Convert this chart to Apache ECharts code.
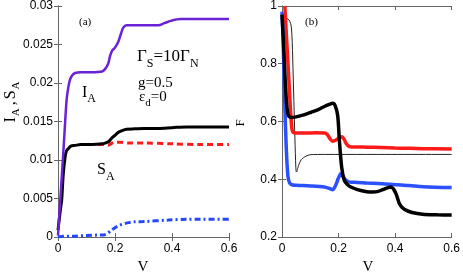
<!DOCTYPE html>
<html>
<head>
<meta charset="utf-8">
<script src="https://cdn.jsdelivr.net/npm/echarts@6/dist/echarts.min.js"></script>
<style>html,body{margin:0;padding:0;background:#fff}#c{width:463px;height:273px}</style>
</head>
<body>
<div id="c"></div>
<script>
// ---------- Panel (a) : I_A, S_A vs V ----------
const xTicksA = ['0', '0.2', '0.4', '0.6'];
const yTicksA = ['0', '0.005', '0.01', '0.015', '0.02', '0.025', '0.03'];

const V_IA = [0, 0.01, 0.02, 0.03, 0.036, 0.042, 0.05, 0.06, 0.08, 0.12, 0.155, 0.165, 0.176, 0.1825, 0.19, 0.2, 0.212, 0.22, 0.229, 0.241, 0.26, 0.3, 0.352, 0.375, 0.399, 0.43, 0.47, 0.52, 0.6];
const IA   = [0.0002, 0.0060, 0.0118, 0.0177, 0.0194, 0.0204, 0.0210, 0.0213, 0.0214, 0.0214, 0.0215, 0.0218, 0.0225, 0.0235, 0.0242, 0.0246, 0.0254, 0.0263, 0.0272, 0.0275, 0.0275, 0.0275, 0.0275, 0.0278, 0.0281, 0.0283, 0.0283, 0.0283, 0.0283];

const V_SA = [0, 0.005, 0.01, 0.013, 0.0186, 0.025, 0.03, 0.036, 0.045, 0.06, 0.08, 0.12, 0.155, 0.165, 0.178, 0.19, 0.2, 0.212, 0.224, 0.24, 0.27, 0.3, 0.35, 0.4, 0.45, 0.5, 0.6];
const SA   = [0.0009, 0.0025, 0.0040, 0.0048, 0.0082, 0.0104, 0.0112, 0.01147, 0.0118, 0.0119, 0.0120, 0.0120, 0.0121, 0.0122, 0.0124, 0.0129, 0.0132, 0.0136, 0.0138, 0.0140, 0.01405, 0.0141, 0.0141, 0.0142, 0.0143, 0.0143, 0.0143];

const V_SA1 = [0.14, 0.155, 0.165, 0.175, 0.185, 0.2, 0.22, 0.25, 0.3, 0.4, 0.5, 0.6];
const SA1   = [0.0120, 0.0120, 0.0120, 0.0119, 0.0121, 0.0123, 0.0123, 0.0122, 0.0122, 0.0121, 0.0120, 0.0120];

const V_SA2 = [0, 0.02, 0.05, 0.1, 0.14, 0.165, 0.188, 0.2, 0.2175, 0.24, 0.27, 0.3, 0.387, 0.45, 0.5, 0.6];
const SA2   = [0, 0.0001, 0.0001, 0.0002, 0.00025, 0.0003, 0.0009, 0.0012, 0.00155, 0.0018, 0.00198, 0.0020, 0.0022, 0.0023, 0.0023, 0.0023];

// ---------- Panel (b) : F vs V ----------
const xTicksB = ['0', '0.2', '0.4', '0.6'];
const yTicksB = ['0.2', '0.4', '0.6', '0.8', '1'];

const V_Fthin = [0, 0.0035, 0.021, 0.0305, 0.035, 0.0387, 0.042, 0.0457, 0.049, 0.051, 0.0587, 0.068, 0.085, 0.1, 0.15, 0.3, 0.6];
const Fthin   = [0.96, 0.96, 0.955, 0.94, 0.90, 0.79, 0.67, 0.54, 0.44, 0.425, 0.448, 0.468, 0.480, 0.485, 0.486, 0.486, 0.486];

const V_Fblk = [0, 0.005, 0.01, 0.015, 0.02, 0.025, 0.035, 0.05, 0.08, 0.103, 0.13, 0.15, 0.17, 0.179, 0.188, 0.197, 0.203, 0.211, 0.22, 0.23, 0.24, 0.267, 0.3, 0.321, 0.34, 0.356, 0.375, 0.386, 0.395, 0.403, 0.41, 0.415, 0.425, 0.438, 0.46, 0.497, 0.55, 0.6];
const Fblk   = [0.97, 0.88, 0.77, 0.68, 0.63, 0.617, 0.614, 0.616, 0.624, 0.632, 0.642, 0.652, 0.660, 0.663, 0.655, 0.62, 0.534, 0.442, 0.397, 0.383, 0.375, 0.364, 0.357, 0.356, 0.358, 0.364, 0.371, 0.373, 0.365, 0.35, 0.33, 0.316, 0.302, 0.293, 0.285, 0.279, 0.277, 0.276];

const V_Fred = [0.01, 0.015, 0.02, 0.025, 0.03, 0.035, 0.04, 0.05, 0.08, 0.12, 0.15, 0.16, 0.17, 0.179, 0.19, 0.2, 0.212, 0.22, 0.228, 0.238, 0.25, 0.3, 0.35, 0.4, 0.45, 0.5, 0.6];
const Fred   = [1.0, 0.91, 0.82, 0.73, 0.64, 0.575, 0.562, 0.560, 0.560, 0.561, 0.560, 0.555, 0.54, 0.532, 0.535, 0.542, 0.547, 0.538, 0.522, 0.513, 0.512, 0.511, 0.510, 0.508, 0.507, 0.506, 0.505];

const V_Fblue = [0, 0.004, 0.0095, 0.015, 0.021, 0.027, 0.035, 0.05, 0.1, 0.15, 0.17, 0.179, 0.19, 0.2, 0.2085, 0.215, 0.226, 0.24, 0.267, 0.3, 0.38, 0.45, 0.5, 0.6];
const Fblue   = [0.98, 0.88, 0.67, 0.51, 0.41, 0.387, 0.381, 0.379, 0.377, 0.373, 0.367, 0.364, 0.38, 0.405, 0.42, 0.41, 0.397, 0.39, 0.389, 0.387, 0.383, 0.378, 0.374, 0.371];

const pairs = (xs, ys) => ys.map((y, i) => [xs[i], y]);

const SERIF = 'Liberation Serif';
const SANS = 'Liberation Sans';
const AXC = '#666';

function xAx(grid, ticks, bottom) {
  return {
    type: 'value', gridIndex: grid, min: 0, max: 0.6, interval: 0.2,
    position: bottom ? 'bottom' : 'top',
    axisLine: { show: true, lineStyle: { color: AXC, width: 1 } },
    axisTick: { show: true, inside: true, length: 4, lineStyle: { color: AXC } },
    splitLine: { show: false },
    axisLabel: {
      show: bottom, color: '#000', fontFamily: SANS, fontSize: 12, margin: 6,
      formatter: (v) => ticks[Math.round(v / 0.2)]
    }
  };
}
function yAx(grid, min, max, step, ticks, left) {
  return {
    type: 'value', gridIndex: grid, min: min, max: max, interval: step,
    position: left ? 'left' : 'right',
    axisLine: { show: true, lineStyle: { color: AXC, width: 1 } },
    axisTick: { show: true, inside: true, length: 4, lineStyle: { color: AXC } },
    splitLine: { show: false },
    axisLabel: {
      show: left, color: '#000', fontFamily: SANS, fontSize: 12, margin: 5,
      formatter: (v) => ticks[Math.round((v - min) / step)]
    }
  };
}

function line(xi, yi, data, color, width, type, z) {
  return {
    type: 'line', xAxisIndex: xi, yAxisIndex: yi, data: data,
    showSymbol: false, symbol: 'none', smooth: 0.3, clip: true,
    lineStyle: { color: color, width: width, type: type || 'solid', cap: 'butt' },
    z: z || 2, animation: false
  };
}

function txt(x, y, text, size, rich, align, extra) {
  return Object.assign({
    type: 'text', x: x, y: y, silent: true,
    style: {
      text: text, fill: '#000',
      fontFamily: SERIF, fontSize: size,
      textAlign: align || 'left', textVerticalAlign: 'middle',
      rich: rich || {}
    }
  }, extra || {});
}
const subRich = (fs, pad) => ({ s: { fontSize: fs, fontFamily: SERIF, padding: [pad, 0, 0, 0] } });

const chart = echarts.init(document.getElementById('c'), null, { renderer: 'canvas' });
chart.setOption({
  animation: false,
  backgroundColor: '#fff',
  grid: [
    { left: 58, top: 5, width: 171, height: 232 },
    { left: 282, top: 5, width: 171, height: 232 }
  ],
  xAxis: [xAx(0, xTicksA, true), xAx(0, xTicksA, false), xAx(1, xTicksB, true), xAx(1, xTicksB, false)],
  yAxis: [yAx(0, 0, 0.03, 0.005, yTicksA, true), yAx(0, 0, 0.03, 0.005, yTicksA, false),
          yAx(1, 0.2, 1, 0.2, yTicksB, true), yAx(1, 0.2, 1, 0.2, yTicksB, false)],
  series: [
    line(0, 0, pairs(V_SA2, SA2), '#2347ff', 3, [6, 3, 2, 3], 2),
    line(0, 0, pairs(V_SA1, SA1), '#ff1a1a', 3, [6, 4], 2),
    line(0, 0, pairs(V_SA, SA), '#000000', 3, 'solid', 3),
    line(0, 0, pairs(V_IA, IA), '#6a22d6', 2.5, 'solid', 3),
    line(2, 2, pairs(V_Fthin, Fthin), '#222222', 1, 'solid', 2),
    line(2, 2, pairs(V_Fred, Fred), '#ff1a1a', 3.5, 'solid', 3),
    line(2, 2, pairs(V_Fblue, Fblue), '#2b50ff', 3.5, 'solid', 3),
    line(2, 2, pairs(V_Fblk, Fblk), '#000000', 3.5, 'solid', 4)
  ],
  graphic: [
    txt(79, 22, '(a)', 11),
    txt(305, 22, '(b)', 11),
    txt(137, 57, 'Γ{s|S}=10Γ{s|N}', 17, subRich(12, 14)),
    txt(138, 83, 'g=0.5', 15),
    txt(139, 97, 'ε{s|d}=0', 15, subRich(11, 12)),
    txt(82, 93, 'I{s|A}', 16, subRich(12, 12)),
    txt(97, 170, 'S{s|A}', 16, subRich(12, 14)),
    txt(143, 267, 'V', 15, null, 'center'),
    txt(368, 267, 'V', 15, null, 'center'),
    txt(241, 123, 'F', 13, null, 'center', { rotation: Math.PI / 2 }),
    txt(11, 101, 'I{s|A}{c|,}S{s|A}', 16, { s: { fontSize: 11, fontFamily: SERIF, padding: [11, 2, 0, 1] }, c: { fontSize: 16, fontFamily: SERIF, padding: [0, 2, 0, 1] } }, 'center', { rotation: Math.PI / 2 })
  ]
});
</script>
</body>
</html>
